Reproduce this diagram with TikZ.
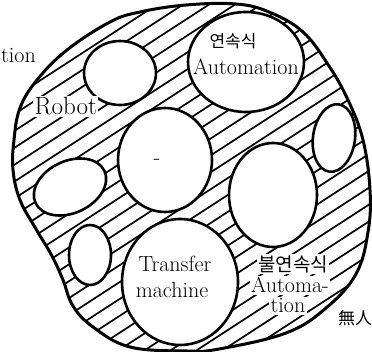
\documentclass[tikz,border=0pt]{standalone}
\usepackage{fontspec}
\newfontfamily\krfont{Noto Sans CJK KR}

\newcommand{\blobshape}{plot[smooth cycle, tension=0.65] coordinates {
  (14,140) (20,108) (37,80) (67,50) (110,22) (140,12) (186,5) (236,4)
  (269,12) (303,32) (329,66) (348,100) (363,140) (370,190) (368,232)
  (356,274) (326,308) (286,333) (219,349) (187,351) (130,347) (93,327)
  (73,306) (63,280) (52,256) (36,229) (20,200) (13,170)}}

\begin{document}
\begin{tikzpicture}[
  x=1pt,
  y=-1pt,
  line join=round,
  outline/.style={draw=black,line width=3pt},
  hatch/.style={draw=black,line width=1.7pt},
  hole/.style={fill=white,draw=black,line width=2.6pt},
  lbl/.style={inner sep=0pt,font=\fontsize{22}{24}\selectfont},
  krlbl/.style={inner sep=0pt,font=\krfont\fontsize{17}{19}\selectfont},
  onhatch/.style={fill=white,inner sep=1.5pt}
]
  % Match the reference frame.
  \useasboundingbox (0,0) rectangle (372,352);

  % Hatched body of the unmanned region.
  \begin{scope}
    \clip \blobshape;
    \foreach \k in {-560,-534,...,380} {
      \draw[hatch] (\k,352) -- ++(542,-352);
    }
  \end{scope}
  \draw[outline] \blobshape;

  % White islands cut out of the hatching.
  \draw[hole] (120,73) ellipse[x radius=36, y radius=32];
  \draw[hole] (246,62) ellipse[x radius=58, y radius=50];
  \draw[hole,rotate around={-8:(334,138)}] (334,138) ellipse[x radius=21, y radius=34];
  \draw[hole] (165,160) ellipse[x radius=47, y radius=52];
  \draw[hole,rotate around={25:(70,187)}] (70,187) ellipse[x radius=38, y radius=26];
  \draw[hole] (90,255) ellipse[x radius=21, y radius=30];
  \draw[hole] (180,282) ellipse[x radius=58, y radius=63];
  \draw[hole] (273,195) ellipse[x radius=44, y radius=52];

  % Labels.
  \node[lbl,anchor=base west] (lefttion) at (1,63) {tion};
  \node[lbl,onhatch,anchor=base west,font=\fontsize{25}{27}\selectfont] (robot) at (33,115) {Robot};
  \node[krlbl] (yeonsok) at (233,41) {연속식};
  \node[lbl,anchor=base] (autoA) at (246,75) {Automation};
  \node[lbl] (dash) at (157,162) {-};
  \node[lbl,anchor=base] (transfer) at (175,272) {Transfer};
  \node[lbl,anchor=base] (machine) at (172,298) {machine};
  \node[krlbl,onhatch,font=\krfont\fontsize{19}{21}\selectfont] (bulyeonsok) at (293,264) {불연속식};
  \node[lbl,onhatch,anchor=base] (autoB) at (290,293) {Automa-};
  \node[lbl,onhatch,anchor=base] (autoBtion) at (288,313) {tion};
  \node[krlbl,anchor=west] (muin) at (338,318) {無人};
\end{tikzpicture}
\end{document}
